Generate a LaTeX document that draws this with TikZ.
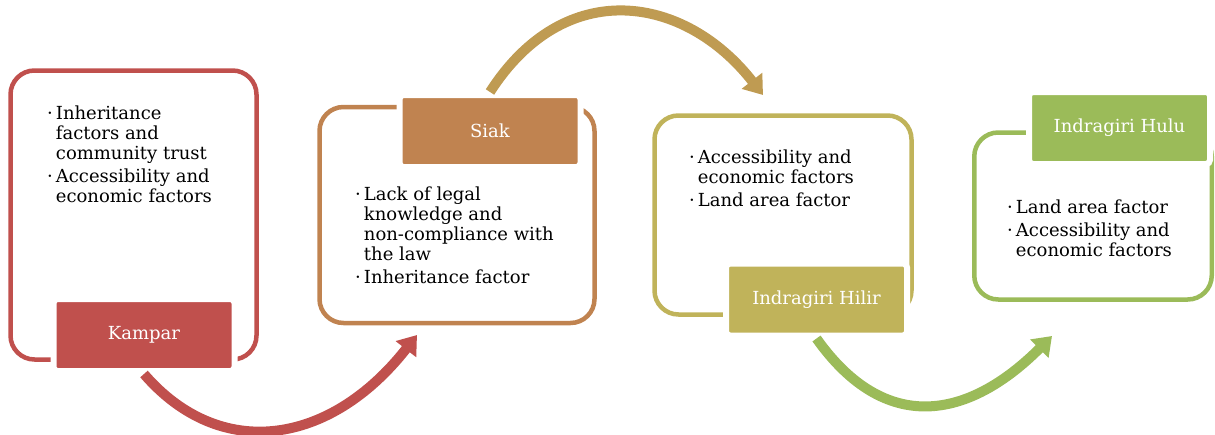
\documentclass[tikz,border=0pt]{standalone}
\usepackage{fontspec}
\setmainfont{DejaVu Serif}
\usetikzlibrary{arrows.meta}
\definecolor{kamparRed}{HTML}{C0504D}
\definecolor{siakBrown}{HTML}{C08350}
\definecolor{siakGold}{HTML}{BF9B52}
\definecolor{hilirOlive}{HTML}{C0B35A}
\definecolor{huluGreen}{HTML}{9BBB59}
\newcommand{\lst}{\fontsize{18}{20}\selectfont}
\newcommand{\bul}{\textperiodcentered}
\begin{document}
\begin{tikzpicture}[x=1pt,y=-1pt,
  ringbox/.style={draw,line width=4.5pt,rounded corners=24pt,inner sep=0pt},
  headbox/.style={draw=white,line width=6pt,rounded corners=4pt,text=white,font=\lst,
    minimum width=181pt,minimum height=72pt,inner sep=0pt},
  items/.style={anchor=base west,inner sep=0pt,font=\lst},
  bigarrow/.style={line width=10pt,-{Triangle[width=25pt,length=18pt]}}]
  \useasboundingbox (0,0) rectangle (1215,434);
  %% frames
  \node (KamparFrame) at (133.5,215) [ringbox,draw=kamparRed,minimum width=246pt,minimum height=289pt] {};
  \node (SiakFrame) at (457,215) [ringbox,draw=siakBrown,minimum width=275pt,minimum height=216pt] {};
  \node (HilirFrame) at (783,215) [ringbox,draw=hilirOlive,minimum width=257pt,minimum height=199pt] {};
  \node (HuluFrame) at (1093,216) [ringbox,draw=huluGreen,minimum width=237.5pt,minimum height=167pt] {};
  %% titles
  \node (Kampar) at (144,335) [headbox,fill=kamparRed] {Kampar};
  \node (Siak) at (490,131) [headbox,fill=siakBrown] {Siak};
  \node (IndragiriHilir) at (816.5,299.5) [headbox,fill=hilirOlive] {Indragiri Hilir};
  \node (IndragiriHulu) at (1119.5,128) [headbox,fill=huluGreen] {Indragiri Hulu};
  %% factors
  \node (KamparList) at (47,119) [items] {\begin{tabular}[t]{@{}l@{\hspace{3pt}}l@{}}
    \bul & Inheritance\\ & factors and\\ & community trust\\[3pt]
    \bul & Accessibility and\\ & economic factors\end{tabular}};
  \node (SiakList) at (355,200) [items] {\begin{tabular}[t]{@{}l@{\hspace{3pt}}l@{}}
    \bul & Lack of legal\\ & knowledge and\\ & non-compliance with\\ & the law\\[3pt]
    \bul & Inheritance factor\end{tabular}};
  \node (HilirList) at (689,163) [items] {\begin{tabular}[t]{@{}l@{\hspace{3pt}}l@{}}
    \bul & Accessibility and\\ & economic factors\\[3pt]
    \bul & Land area factor\end{tabular}};
  \node (HuluList) at (1007,213) [items] {\begin{tabular}[t]{@{}l@{\hspace{3pt}}l@{}}
    \bul & Land area factor\\[3pt]
    \bul & Accessibility and\\ & economic factors\end{tabular}};
  %% flow
  \coordinate (SiakIn) at (417,335);
  \coordinate (HilirIn) at (763,95);
  \coordinate (HuluIn) at (1052,336);
  \draw [bigarrow,kamparRed] (Kampar.south) ..controls (220,462) and (330,446) .. (SiakIn);
  \draw [bigarrow,siakGold] (Siak.north) ..controls (565,-25) and (685,-5) .. (HilirIn);
  \draw [bigarrow,huluGreen] (IndragiriHilir.south) ..controls (885,435) and (968,420) .. (HuluIn);
\end{tikzpicture}
\end{document}
